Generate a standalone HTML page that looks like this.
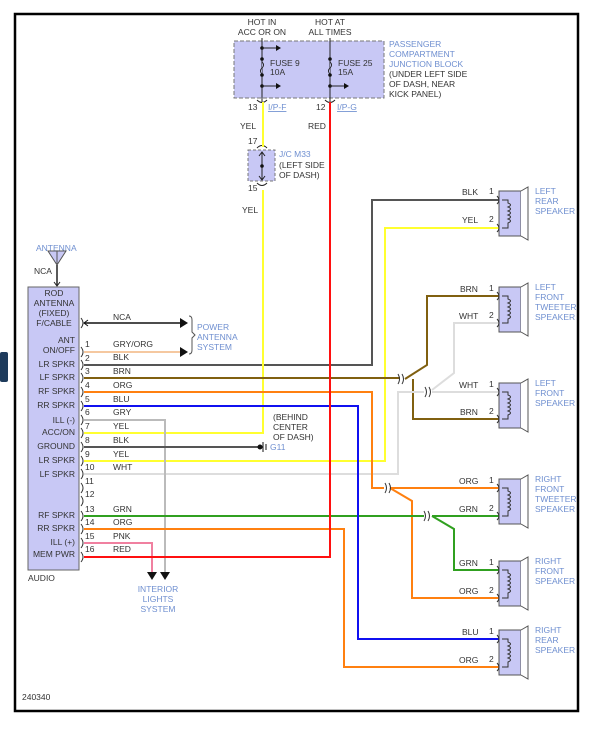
<!DOCTYPE html>
<html><head><meta charset="utf-8"><style>
html,body{margin:0;padding:0;background:#fff;}
svg{display:block;font-family:"Liberation Sans",Arial,sans-serif;}
.t{font-size:8.5px;fill:#333;}
.b{font-size:8.5px;fill:#6f8fd0;}
.w{fill:none;stroke-width:2;}
</style></head><body>
<svg width="611" height="732" viewBox="0 0 611 732" xmlns="http://www.w3.org/2000/svg">
<rect x="0" y="0" width="611" height="732" fill="#fff"/>
<rect x="15" y="14" width="563" height="697" fill="none" stroke="#000" stroke-width="2.5"/>
<rect x="0" y="352" width="8" height="30" rx="2" fill="#1e3b5c"/>

<!-- Junction block -->
<text class="t" x="262" y="25" text-anchor="middle">HOT IN</text>
<text class="t" x="262" y="35" text-anchor="middle">ACC OR ON</text>
<text class="t" x="330" y="25" text-anchor="middle">HOT AT</text>
<text class="t" x="330" y="35" text-anchor="middle">ALL TIMES</text>
<rect x="234" y="41" width="150" height="57" fill="#c8c8f5" stroke="#777" stroke-dasharray="4,2"/>
<line x1="262" y1="38" x2="262" y2="102" stroke="#222" stroke-width="1"/>
<line x1="330" y1="38" x2="330" y2="102" stroke="#222" stroke-width="1"/>
<g fill="#111"><circle cx="262" cy="48" r="1.8"/><circle cx="262" cy="59" r="1.8"/><circle cx="262" cy="75" r="1.8"/><circle cx="262" cy="86" r="1.8"/>
<circle cx="330" cy="59" r="1.8"/><circle cx="330" cy="75" r="1.8"/><circle cx="330" cy="86" r="1.8"/></g>
<path d="M262 48H278M262 86H278M330 86H346" stroke="#222"/>
<path d="M276 45L281 48L276 51ZM276 83L281 86L276 89ZM344 83L349 86L344 89Z" fill="#111"/>
<path d="M262 62q3 3 0 6q-3 3 0 6M330 62q3 3 0 6q-3 3 0 6" fill="#c8c8f5" stroke="#222"/>
<text class="t" x="270" y="66">FUSE 9</text><text class="t" x="270" y="75">10A</text>
<text class="t" x="338" y="66">FUSE 25</text><text class="t" x="338" y="75">15A</text>
<text class="b" x="389" y="47">PASSENGER</text><text class="b" x="389" y="57">COMPARTMENT</text><text class="b" x="389" y="67">JUNCTION BLOCK</text>
<text class="t" x="389" y="77">(UNDER LEFT SIDE</text><text class="t" x="389" y="87">OF DASH, NEAR</text><text class="t" x="389" y="97">KICK PANEL)</text>
<path d="M257 100q5 5 10 0M325 100q5 5 10 0" fill="none" stroke="#222"/>
<text class="t" x="248" y="110">13</text><text class="b" x="268" y="110" text-decoration="underline">I/P-F</text>
<text class="t" x="316" y="110">12</text><text class="b" x="337" y="110" text-decoration="underline">I/P-G</text>
<text class="t" x="240" y="129">YEL</text><text class="t" x="308" y="129">RED</text>

<!-- J/C -->
<text class="t" x="248" y="144">17</text>
<rect x="248" y="150" width="27" height="31" fill="#c8c8f5" stroke="#777" stroke-dasharray="3,2"/>
<path d="M257 148q5 -5 10 0M257 183q5 5 10 0" fill="none" stroke="#222"/>
<line x1="262" y1="152" x2="262" y2="180" stroke="#222"/>
<path d="M259 156L262 152L265 156M259 176L262 180L265 176" fill="none" stroke="#222"/>
<circle cx="262" cy="166" r="1.8" fill="#111"/>
<text class="b" x="279" y="157">J/C M33</text>
<text class="t" x="279" y="168">(LEFT SIDE</text><text class="t" x="279" y="178">OF DASH)</text>
<text class="t" x="248" y="191">15</text>
<text class="t" x="242" y="213">YEL</text>

<!-- Antenna -->
<text class="b" x="36" y="251">ANTENNA</text>
<path d="M48 251L66 251L57 265Z" fill="#c8c8f5" stroke="#555"/>
<path d="M57 251L57 265" stroke="#555"/>
<line x1="57" y1="265" x2="57" y2="285" stroke="#222" stroke-width="1.5"/>
<path d="M54 282L57 286L60 282" fill="none" stroke="#222"/>
<text class="t" x="34" y="274">NCA</text>

<!-- Audio box -->
<rect x="28" y="287" width="51" height="283" fill="#c8c8f5" stroke="#666"/>
<g class="t" text-anchor="middle">
<text x="54" y="296">ROD</text><text x="54" y="306">ANTENNA</text><text x="54" y="316">(FIXED)</text><text x="54" y="326">F/CABLE</text></g>
<g class="t" text-anchor="end">
<text x="75" y="343">ANT</text><text x="75" y="353">ON/OFF</text>
<text x="75" y="367">LR SPKR</text><text x="75" y="380">LF SPKR</text><text x="75" y="394">RF SPKR</text><text x="75" y="408">RR SPKR</text>
<text x="75" y="423">ILL (-)</text><text x="75" y="435">ACC/ON</text><text x="75" y="449">GROUND</text><text x="75" y="463">LR SPKR</text><text x="75" y="477">LF SPKR</text>
<text x="75" y="518">RF SPKR</text><text x="75" y="531">RR SPKR</text><text x="75" y="545">ILL (+)</text><text x="75" y="557">MEM PWR</text></g>
<text class="t" x="28" y="581">AUDIO</text>
<!-- pin brackets -->
<g fill="none" stroke="#333">
<path d="M81 318q4 5 0 10"/>
<path d="M81 347q4 5 0 10M81 360q4 5 0 10M81 373q4 5 0 10M81 387q4 5 0 10M81 401q4 5 0 10M81 415q4 5 0 10M81 428q4 5 0 10M81 442q4 5 0 10M81 456q4 5 0 10M81 469q4 5 0 10M81 483q4 5 0 10M81 496q4 5 0 10M81 511q4 5 0 10M81 524q4 5 0 10M81 538q4 5 0 10M81 552q4 5 0 10"/>
</g>
<g class="t">
<text x="85" y="347">1</text><text x="85" y="361">2</text><text x="85" y="374">3</text><text x="85" y="388">4</text><text x="85" y="402">5</text><text x="85" y="415">6</text><text x="85" y="429">7</text><text x="85" y="443">8</text><text x="85" y="457">9</text><text x="85" y="470">10</text><text x="85" y="484">11</text><text x="85" y="497">12</text><text x="85" y="512">13</text><text x="85" y="525">14</text><text x="85" y="539">15</text><text x="85" y="552">16</text>
<text x="113" y="320">NCA</text><text x="113" y="347">GRY/ORG</text><text x="113" y="360">BLK</text><text x="113" y="374">BRN</text><text x="113" y="388">ORG</text><text x="113" y="402">BLU</text><text x="113" y="415">GRY</text><text x="113" y="429">YEL</text><text x="113" y="443">BLK</text><text x="113" y="457">YEL</text><text x="113" y="470">WHT</text>
<text x="113" y="512">GRN</text><text x="113" y="525">ORG</text><text x="113" y="539">PNK</text><text x="113" y="552">RED</text></g>

<!-- power antenna -->
<line x1="84" y1="323" x2="180" y2="323" stroke="#111" stroke-width="1.5"/>
<path d="M88 320L84 323L88 326" fill="none" stroke="#111"/>
<path d="M180 318L188 323L180 328Z" fill="#111"/>
<line x1="84" y1="352" x2="180" y2="352" stroke="#f5c8a0" stroke-width="2"/>
<path d="M180 347L188 352L180 357Z" fill="#111"/>
<path d="M189 316q3 0 3 4v12l3 3l-3 3v12q0 4-3 4" fill="none" stroke="#555"/>
<text class="b" x="197" y="330">POWER</text><text class="b" x="197" y="340">ANTENNA</text><text class="b" x="197" y="350">SYSTEM</text>

<!-- wires -->
<g class="w">
<path d="M84 365H372V200H500" stroke="#555"/>
<path d="M84 461H385V228H500" stroke="#ffff30"/>
<path d="M84 433H263V190M263 147V102" stroke="#ffff30"/>
<path d="M84 378H400M405 379L427 365V296H500M413 379V419H500" stroke="#806010"/>
<path d="M84 474H398V392H424M432 392H500M432 390L454 373V323H500" stroke="#ddd"/>
<path d="M84 420H165V572" stroke="#bbb"/>
<path d="M84 543H152V572" stroke="#f080a0"/>
<path d="M84 447H258" stroke="#555"/>
<path d="M84 392H372V488H384M390 488H500M390 488L412 501V598H500" stroke="#ff8010"/>
<path d="M84 516H424M432 516H500M432 516L454 529V570H500" stroke="#30a020"/>
<path d="M84 406H358V639H500" stroke="#1010f0"/>
<path d="M84 529H344V667H500" stroke="#ff8010"/>
<path d="M84 557H330V102" stroke="#ff1010"/>
</g>
<path d="M147 572L152 580L157 572ZM160 572L165 580L170 572Z" fill="#111"/>
<text class="b" x="158" y="592" text-anchor="middle">INTERIOR</text><text class="b" x="158" y="602" text-anchor="middle">LIGHTS</text><text class="b" x="158" y="612" text-anchor="middle">SYSTEM</text>
<!-- ground -->
<circle cx="260" cy="447" r="2.5" fill="#111"/><path d="M263 442V452M266 444V450" stroke="#111"/>
<text class="t" x="273" y="420">(BEHIND</text><text class="t" x="273" y="430">CENTER</text><text class="t" x="273" y="440">OF DASH)</text>
<text class="b" x="270" y="450">G11</text>
<!-- inline connectors -->
<g fill="none" stroke="#333">
<path d="M398 374q3 5 0 10M402 374q3 5 0 10"/>
<path d="M425 387q3 5 0 10M429 387q3 5 0 10"/>
<path d="M385 483q3 5 0 10M389 483q3 5 0 10"/>
<path d="M424 511q3 5 0 10M428 511q3 5 0 10"/>
</g>

<!-- speakers -->
<g id="spk">
</g>
<g fill="#c8c8f5" stroke="#555">
<rect x="499" y="191" width="22" height="45"/><path d="M521 191L528 187V240L521 236" fill="#fff"/>
<rect x="499" y="287" width="22" height="45"/><path d="M521 287L528 283V336L521 332" fill="#fff"/>
<rect x="499" y="383" width="22" height="45"/><path d="M521 383L528 379V432L521 428" fill="#fff"/>
<rect x="499" y="479" width="22" height="45"/><path d="M521 479L528 475V528L521 524" fill="#fff"/>
<rect x="499" y="561" width="22" height="45"/><path d="M521 561L528 557V610L521 606" fill="#fff"/>
<rect x="499" y="630" width="22" height="45"/><path d="M521 630L528 626V679L521 675" fill="#fff"/>
</g>
<g fill="none" stroke="#333">
<path d="M502 200H508v3q5 2 0 4q5 2 0 4q5 2 0 4q5 2 0 4q5 2 0 4v5H502M497 196q4 4 0 8M497 224q4 4 0 8"/>
<path d="M502 296H508v3q5 2 0 4q5 2 0 4q5 2 0 4q5 2 0 4q5 2 0 4v4H502M497 292q4 4 0 8M497 319q4 4 0 8"/>
<path d="M502 392H508v3q5 2 0 4q5 2 0 4q5 2 0 4q5 2 0 4q5 2 0 4v4H502M497 388q4 4 0 8M497 415q4 4 0 8"/>
<path d="M502 488H508v3q5 2 0 4q5 2 0 4q5 2 0 4q5 2 0 4q5 2 0 4v5H502M497 484q4 4 0 8M497 512q4 4 0 8"/>
<path d="M502 570H508v3q5 2 0 4q5 2 0 4q5 2 0 4q5 2 0 4q5 2 0 4v5H502M497 566q4 4 0 8M497 594q4 4 0 8"/>
<path d="M502 639H508v3q5 2 0 4q5 2 0 4q5 2 0 4q5 2 0 4q5 2 0 4v5H502M497 635q4 4 0 8M497 663q4 4 0 8"/>
</g>
<g class="t">
<text x="462" y="195">BLK</text><text x="489" y="194">1</text><text x="462" y="223">YEL</text><text x="489" y="222">2</text>
<text x="460" y="292">BRN</text><text x="489" y="291">1</text><text x="459" y="319">WHT</text><text x="489" y="318">2</text>
<text x="459" y="388">WHT</text><text x="489" y="387">1</text><text x="460" y="415">BRN</text><text x="489" y="414">2</text>
<text x="459" y="484">ORG</text><text x="489" y="483">1</text><text x="459" y="512">GRN</text><text x="489" y="511">2</text>
<text x="459" y="566">GRN</text><text x="489" y="565">1</text><text x="459" y="594">ORG</text><text x="489" y="593">2</text>
<text x="462" y="635">BLU</text><text x="489" y="634">1</text><text x="459" y="663">ORG</text><text x="489" y="662">2</text>
</g>
<g class="b">
<text x="535" y="194">LEFT</text><text x="535" y="204">REAR</text><text x="535" y="214">SPEAKER</text>
<text x="535" y="290">LEFT</text><text x="535" y="300">FRONT</text><text x="535" y="310">TWEETER</text><text x="535" y="320">SPEAKER</text>
<text x="535" y="386">LEFT</text><text x="535" y="396">FRONT</text><text x="535" y="406">SPEAKER</text>
<text x="535" y="482">RIGHT</text><text x="535" y="492">FRONT</text><text x="535" y="502">TWEETER</text><text x="535" y="512">SPEAKER</text>
<text x="535" y="564">RIGHT</text><text x="535" y="574">FRONT</text><text x="535" y="584">SPEAKER</text>
<text x="535" y="633">RIGHT</text><text x="535" y="643">REAR</text><text x="535" y="653">SPEAKER</text>
</g>
<text class="t" x="22" y="700">240340</text>
</svg>
</body></html>
